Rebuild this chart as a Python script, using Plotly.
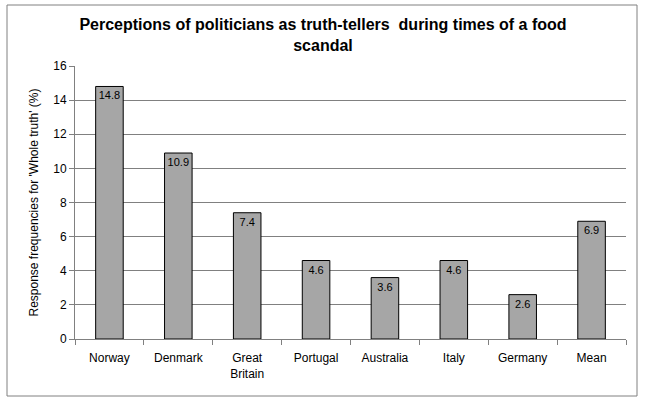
import plotly.graph_objects as go

categories = ["Norway", "Denmark", "Great<br>Britain", "Portugal", "Australia", "Italy", "Germany", "Mean"]
values = [14.8, 10.9, 7.4, 4.6, 3.6, 4.6, 2.6, 6.9]
labels = ["14.8", "10.9", "7.4", "4.6", "3.6", "4.6", "2.6", "6.9"]
yticks = [0, 2, 4, 6, 8, 10, 12, 14, 16]

L, R, T, B = 75, 20, 66, 62
W, H = 646, 401
pw, ph = W - L - R, H - T - B

def px_x(p):
    return (p - L) / pw

def px_y(p):
    return (H - B - p) / ph

fig = go.Figure(go.Bar(
    x=categories, y=values, text=labels,
    textposition="inside", insidetextanchor="end", textangle=0,
    constraintext="none",
    insidetextfont=dict(family="Liberation Sans, Arial", size=11, color="black"),
    marker=dict(color="#a6a6a6", line=dict(color="black", width=1)),
    hoverinfo="skip",
))

fig.update_layout(
    width=W, height=H,
    margin=dict(l=L, r=R, t=T, b=B, autoexpand=False),
    paper_bgcolor="white", plot_bgcolor="white",
    bargap=0.6,
    showlegend=False,
    font=dict(family="Liberation Sans, Arial", size=12, color="black"),
    title=dict(
        text="<b>Perceptions of politicians as truth-tellers  during times of a food<br>scandal</b>",
        x=0.5, xref="container", y=1 - 30 / H, yanchor="middle", xanchor="center",
        font=dict(family="Liberation Sans, Arial", size=16, color="black"),
    ),
    xaxis=dict(
        showline=True, linecolor="#808080", linewidth=1,
        ticks="outside", tickson="boundaries", ticklen=5, tickcolor="#808080",
        tickfont=dict(size=12), showgrid=False, automargin=False,
        ticklabelstandoff=8,
    ),
    yaxis=dict(
        range=[0, 16], tickvals=yticks, ticks="outside", ticklen=5, tickcolor="#808080",
        showline=True, linecolor="#808080", linewidth=1,
        showgrid=True, gridcolor="#808080", gridwidth=1,
        zeroline=False, tickfont=dict(size=12), automargin=False,
        title=dict(text="Response frequencies for 'Whole truth' (%)", font=dict(size=12), standoff=12),
    ),
    shapes=[dict(
        type="rect", xref="paper", yref="paper",
        x0=px_x(7), x1=px_x(637), y0=px_y(396), y1=px_y(5),
        line=dict(color="#808080", width=1), fillcolor="rgba(0,0,0,0)", layer="below",
    )],
)

fig.write_html(
    "out.html",
    config={"displayModeBar": False},
    post_script="document.body.style.margin='0';document.body.style.overflow='hidden';",
)
